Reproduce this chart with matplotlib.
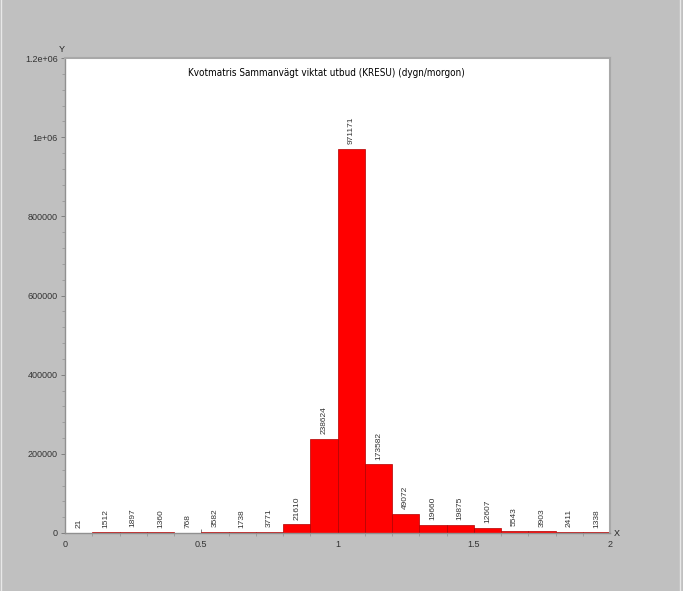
import matplotlib
matplotlib.use("Agg")
import matplotlib.pyplot as plt
from matplotlib.ticker import MultipleLocator, FixedLocator

bin_left = [0.0, 0.1, 0.2, 0.3, 0.4, 0.5, 0.6, 0.7, 0.8, 0.9,
            1.0, 1.1, 1.2, 1.3, 1.4, 1.5, 1.6, 1.7, 1.8, 1.9]
counts = [21, 1512, 1897, 1360, 768, 3582, 1738, 3771, 21610, 238624,
          971171, 173582, 49072, 19660, 19875, 12607, 5543, 3903, 2411, 1338]
y_ticks = [0, 200000, 400000, 600000, 800000, 1000000, 1200000]
y_tick_labels = ["0", "200000", "400000", "600000", "800000", "1e+06", "1.2e+06"]
x_ticks = [0, 0.5, 1, 1.5, 2]
x_tick_labels = ["0", "0.5", "1", "1.5", "2"]
title = "Kvotmatris Sammanvägt viktat utbud (KRESU) (dygn/morgon)"

plt.rcParams['font.family'] = ['Liberation Sans', 'DejaVu Sans']

fig = plt.figure(figsize=(6.83, 5.91), dpi=100, facecolor="#c0c0c0")
W, H = 683, 591
ax = fig.add_axes([65 / W, (H - 533) / H, 545 / W, 475 / H])
ax.set_facecolor("white")

ax.bar(bin_left, counts, width=0.1, align="edge", color="#ff0000",
       edgecolor="#b00000", linewidth=0.5, zorder=2)
for x, c in zip(bin_left, counts):
    ax.text(x + 0.05, c + 12000, str(c), rotation=90, ha="center", va="bottom",
            fontsize=6, color="#333333")

ax.set_xlim(0, 2)
ax.set_ylim(0, 1200000)
ax.yaxis.set_major_locator(FixedLocator(y_ticks))
ax.set_yticklabels(y_tick_labels)
ax.yaxis.set_minor_locator(MultipleLocator(40000))
ax.xaxis.set_major_locator(FixedLocator(x_ticks))
ax.set_xticklabels(x_tick_labels)
ax.xaxis.set_minor_locator(MultipleLocator(0.1))

for s in ["left", "bottom"]:
    ax.spines[s].set_color("#909090")
    ax.spines[s].set_linewidth(1.0)
for s in ["top", "right"]:
    ax.spines[s].set_color("#a8a8a8")
    ax.spines[s].set_linewidth(1.5)

ax.tick_params(axis="both", which="major", length=3, width=0.7, color="#808080",
               labelsize=6.5, labelcolor="#333333", pad=2)
ax.tick_params(axis="x", which="major", pad=5)
ax.tick_params(axis="both", which="minor", length=2, width=0.5, color="#909090")
ax.tick_params(axis="x", direction="in")

ax.text(0.479, 0.98, title, transform=ax.transAxes, ha="center", va="top",
        fontsize=7.1, color="black", family=['DejaVu Sans'], stretch='condensed')
fig.text(62 / W, 1 - 49 / H, "Y", fontsize=6.5, color="#222222", ha="center", va="center")
fig.text(617 / W, 1 - 533 / H, "X", fontsize=6.5, color="#222222", ha="center", va="center")

fig.add_artist(plt.Line2D([680 / W, 680 / W], [0, 1], transform=fig.transFigure,
                          color="#e8e8e8", linewidth=1))
fig.add_artist(plt.Line2D([0.5 / W, 0.5 / W], [0, 1], transform=fig.transFigure,
                          color="#e8e8e8", linewidth=1))

fig.savefig("out.png", dpi=100, facecolor=fig.get_facecolor())
